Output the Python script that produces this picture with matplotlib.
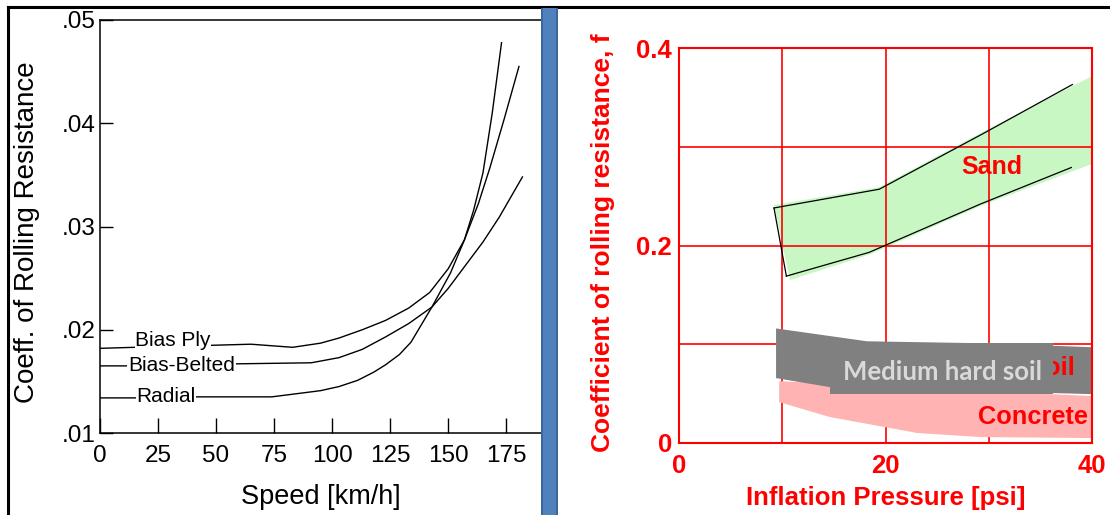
import matplotlib
matplotlib.use("Agg")
import matplotlib.pyplot as plt
from matplotlib.patches import Rectangle, Polygon
from matplotlib.lines import Line2D

# ---------------- data: left chart ----------------
bias_ply_speed = [0, 15, 30, 49, 65, 83, 95, 103, 113, 123, 133, 142, 150, 157,
                  163, 168, 174, 180.5]
bias_ply_f = [0.0182, 0.0183, 0.0184, 0.0185, 0.0186, 0.0183, 0.0187, 0.0192,
              0.0200, 0.0209, 0.0221, 0.0236, 0.0259, 0.0287, 0.0322, 0.0357,
              0.0403, 0.0455]
bias_belted_speed = [0, 11, 30, 59, 91, 103, 113, 123, 133, 143, 150, 157, 165,
                     172, 182]
bias_belted_f = [0.0165, 0.0165, 0.0166, 0.0167, 0.0168, 0.0173, 0.0181, 0.0193,
                 0.0206, 0.0222, 0.0240, 0.0261, 0.0285, 0.0309, 0.0348]
radial_speed = [0, 15, 41, 74, 95, 103, 111, 118, 123, 129, 134, 143, 151, 157,
                161, 165, 169, 173]
radial_f = [0.0134, 0.0134, 0.0135, 0.0135, 0.0141, 0.0145, 0.0151, 0.0159,
            0.0166, 0.0176, 0.0188, 0.0222, 0.0255, 0.0287, 0.0316, 0.0352,
            0.0410, 0.0478]
left_xticks = [0, 25, 50, 75, 100, 125, 150, 175]
left_yticks = [0.01, 0.02, 0.03, 0.04, 0.05]
left_ytick_labels = [".01", ".02", ".03", ".04", ".05"]

# ---------------- data: right chart ----------------
sand_upper_x = [9.2, 19.4, 29.4, 38.1]
sand_upper_y = [0.238, 0.257, 0.313, 0.363]
sand_lower_x = [10.4, 18.4, 29.2, 38.0]
sand_lower_y = [0.169, 0.193, 0.242, 0.279]
sand_band_top_x = [9.2, 19.4, 29.4, 40.1]
sand_band_top_y = [0.241, 0.259, 0.315, 0.372]
sand_band_bot_x = [10.75, 18.5, 29.2, 40.1]
sand_band_bot_y = [0.165, 0.191, 0.240, 0.283]

soil_top_x = [9.4, 18.2, 29.4, 40.0]
soil_top_y = [0.116, 0.103, 0.101, 0.097]
soil_bot_x = [9.4, 14.6, 40.0]
soil_bot_y = [0.0657, 0.0566, 0.0495]

concrete_top_x = [9.7, 40.0]
concrete_top_y = [0.0626, 0.0475]
concrete_bot_x = [9.7, 14.6, 23.1, 29.2, 40.0]
concrete_bot_y = [0.0414, 0.0263, 0.0101, 0.006, 0.005]

right_xticks = [0, 20, 40]
right_yticks = [0, 0.2, 0.4]
right_ytick_labels = ["0", "0.2", "0.4"]

W, H = 1110, 515
fig = plt.figure(figsize=(W / 100, H / 100), dpi=100)
fig.patch.set_facecolor("white")

def fx(px):
    return px / W

def fy(py):
    return 1 - py / H

ARIAL = "Liberation Sans"

# ================= left axes =================
axl = fig.add_axes([fx(100), fy(433), fx(541 - 100), (433 - 20) / H])
axl.set_xlim(0, 190)
axl.set_ylim(0.01, 0.05)
for s in ["left", "bottom", "top"]:
    axl.spines[s].set_color("black")
    axl.spines[s].set_linewidth(1.1)
axl.spines["right"].set_visible(False)

for sx, sy in [(bias_ply_speed, bias_ply_f), (bias_belted_speed, bias_belted_f),
               (radial_speed, radial_f)]:
    axl.plot(sx, sy, color="black", lw=1.0, solid_joinstyle="round")

lab_kw = dict(fontsize=15, family=ARIAL, va="center", ha="center",
              bbox=dict(facecolor="white", edgecolor="none", pad=0.5))
axl.text(31.5, 0.0190, "Bias Ply", **lab_kw)
axl.text(35.1, 0.0165, "Bias-Belted", **lab_kw)
axl.text(28.4, 0.0135, "Radial", **lab_kw)

axl.set_xticks(left_xticks)
axl.set_xticklabels([str(v) for v in left_xticks], family=ARIAL, fontsize=17.5)
axl.set_yticks(left_yticks)
axl.set_yticklabels(left_ytick_labels, family=ARIAL, fontsize=17.5)
axl.tick_params(axis="x", direction="in", length=11, width=1.0, pad=9)
axl.tick_params(axis="y", direction="in", length=9, width=1.0, pad=3)
axl.set_xlabel("Speed [km/h]", family=ARIAL, fontsize=19.5, labelpad=12)
fig.text(fx(27), fy(232), "Coeff. of Rolling Resistance", family=ARIAL,
         fontsize=20, rotation=90, ha="center", va="center")

# ================= right axes =================
RED = "#ff0000"
axr = fig.add_axes([fx(679), fy(443), fx(1092 - 679), (443 - 48) / H])
axr.set_xlim(0, 40)
axr.set_ylim(0, 0.4)
for s in axr.spines.values():
    s.set_color(RED)
    s.set_linewidth(1.5)
for gx in [10, 20, 30]:
    axr.axvline(gx, color=RED, lw=1.2, zorder=1.5)
for gy in [0.1, 0.2, 0.3]:
    axr.axhline(gy, color=RED, lw=1.2, zorder=1.5)

sand_poly = list(zip(sand_band_top_x, sand_band_top_y)) + \
    list(zip(sand_band_bot_x[::-1], sand_band_bot_y[::-1]))
axr.add_patch(Polygon(sand_poly, closed=True, facecolor="#c8f7c3",
                      edgecolor="none", zorder=1))
axr.plot(sand_upper_x, sand_upper_y, color="black", lw=0.9, zorder=3)
axr.plot(sand_lower_x, sand_lower_y, color="black", lw=0.9, zorder=3)
axr.plot([sand_upper_x[0], sand_lower_x[0]], [sand_upper_y[0], sand_lower_y[0]],
         color="black", lw=0.9, zorder=3)

conc_poly = list(zip(concrete_top_x, concrete_top_y)) + \
    list(zip(concrete_bot_x[::-1], concrete_bot_y[::-1]))
axr.add_patch(Polygon(conc_poly, closed=True, facecolor="#ffb3b3",
                      edgecolor="none", zorder=2))
soil_poly = list(zip(soil_top_x, soil_top_y)) + \
    list(zip(soil_bot_x[::-1], soil_bot_y[::-1]))
axr.add_patch(Polygon(soil_poly, closed=True, facecolor="#808080",
                      edgecolor="none", zorder=2.2))

bold = dict(family=ARIAL, fontweight="bold", color=RED)
axr.text(30.3, 0.279, "Sand", fontsize=18, ha="center", va="center", zorder=4, **bold)
axr.text(34.3, 0.0263, "Concrete", fontsize=18.3, ha="center", va="center", zorder=4, **bold)
axr.text(38.35, 0.0758, "Medium hard soil", fontsize=18.5, ha="right", va="center",
         zorder=4, **bold)
axr.add_patch(Rectangle((14.6, 0.0495), 36.2 - 14.6, 0.101 - 0.0495,
                        facecolor="#808080", edgecolor="none", zorder=5))
axr.text(25.5, 0.0720, "Medium hard soil", family="Lato", fontweight="bold",
         fontsize=18.5, color="#d9d9d9", ha="center", va="center", zorder=6)

axr.set_xticks(right_xticks)
axr.set_xticklabels([str(v) for v in right_xticks], fontsize=18.5, **bold)
axr.set_yticks(right_yticks)
axr.set_yticklabels(right_ytick_labels, fontsize=18.5, **bold)
axr.tick_params(axis="x", length=0, pad=8)
axr.tick_params(axis="y", length=0, pad=5)
axr.set_xlabel("Inflation Pressure [psi]", fontsize=18.5, labelpad=6, **bold)
fig.text(fx(603), fy(243), "Coefficient of rolling resistance, f", fontsize=19,
         rotation=90, ha="center", va="center", **bold)

# ================= decorations =================
fig.patches.append(Rectangle((fx(541), 0), fx(17), fy(8), transform=fig.transFigure,
                             facecolor="#4f81bd", edgecolor="none", zorder=10))
fig.patches.append(Rectangle((fx(541), 0), fx(2), fy(8), transform=fig.transFigure,
                             facecolor="#3b6699", edgecolor="none", zorder=11))
fig.patches.append(Rectangle((fx(556), 0), fx(2), fy(8), transform=fig.transFigure,
                             facecolor="#3b6699", edgecolor="none", zorder=11))
fig.add_artist(Line2D([fx(8), 1], [fy(7), fy(7)], color="black", lw=2.2,
                      transform=fig.transFigure))
fig.add_artist(Line2D([fx(8), fx(8)], [0, fy(7)], color="black", lw=2.2,
                      transform=fig.transFigure))

fig.savefig("out.png", dpi=100)
